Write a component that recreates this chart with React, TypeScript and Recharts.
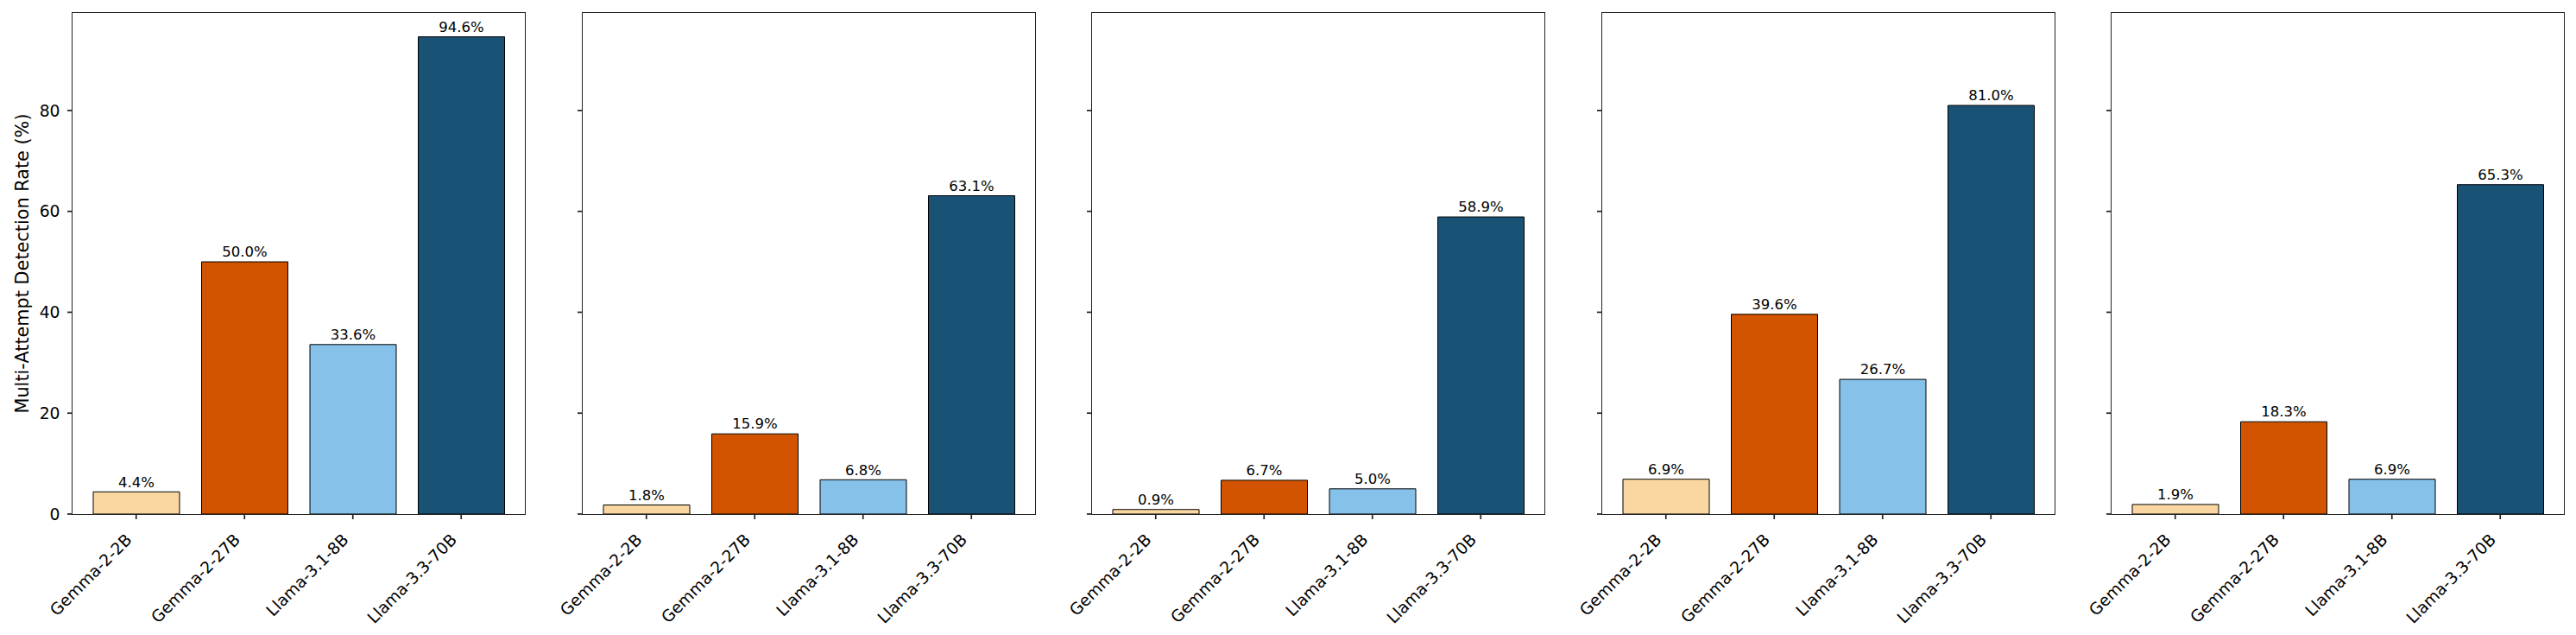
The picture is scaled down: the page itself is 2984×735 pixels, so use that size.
import { BarChart, Bar, XAxis, YAxis, Cell, LabelList } from 'recharts';

const categories = ['Gemma-2-2B', 'Gemma-2-27B', 'Llama-3.1-8B', 'Llama-3.3-70B'];
const barColors = ['#FAD7A0', '#D35400', '#85C1E9', '#1A5276'];

const panel1 = [4.4, 50.0, 33.6, 94.6];
const panel2 = [1.8, 15.9, 6.8, 63.1];
const panel3 = [0.9, 6.7, 5.0, 58.9];
const panel4 = [6.9, 39.6, 26.7, 81.0];
const panel5 = [1.9, 18.3, 6.9, 65.3];
const panels = [panel1, panel2, panel3, panel4, panel5];

const yTicks = [0, 20, 40, 60, 80];
const yMax = 99.33;
const yLabel = 'Multi-Attempt Detection Rate (%)';

const FONT = '"DejaVu Sans", sans-serif';
const AXIS = '#222';
const SPINE = 1.7;
const PLOT_W = 524;
const PLOT_TOP = 15;
const PLOT_H = 580;
const PLOT_LEFTS = [84, 675, 1265, 1856, 2446];
const YW = 84;

function XTick({ x, y, payload }: any) {
  return (
    <text
      transform={`translate(${x - 4},${y + 23}) rotate(-45)`}
      textAnchor="end"
      fontSize={18.75}
      fontFamily={FONT}
      fill="#000"
    >
      {payload.value}
    </text>
  );
}

function YTick({ x, y, payload }: any) {
  return (
    <text x={x} y={y} dy="0.36em" textAnchor="end" fontSize={18.75} fontFamily={FONT} fill="#000">
      {payload.value}
    </text>
  );
}

const noTick = () => <g />;

function ValueLabel({ x, y, width, value }: any) {
  return (
    <text
      x={x + width / 2}
      y={y - 5.7}
      textAnchor="middle"
      fontSize={16.5}
      fontFamily={FONT}
      fill="#000"
    >
      {`${Number(value).toFixed(1)}%`}
    </text>
  );
}

function YLabel({ viewBox }: any) {
  const cx = viewBox.x + 33;
  const cy = viewBox.y + viewBox.height / 2;
  return (
    <text
      transform={`translate(${cx},${cy}) rotate(-90)`}
      textAnchor="middle"
      fontSize={20.8}
      fontFamily={FONT}
      fill="#000"
    >
      {yLabel}
    </text>
  );
}

function Panel({ values, index }: { values: number[]; index: number }) {
  const data = categories.map((name, i) => ({ name, rate: values[i] }));
  const first = index === 0;
  const left = PLOT_LEFTS[index];
  return (
    <>
      <div style={{ position: 'absolute', left: left - YW, top: 0 }}>
        <BarChart
          width={YW + PLOT_W + 4}
          height={735}
          data={data}
          margin={{ top: PLOT_TOP, right: 4, bottom: 10, left: 0 }}
        >
          <XAxis
            dataKey="name"
            height={130}
            padding={{ left: 11, right: 11 }}
            tick={XTick}
            tickSize={6}
            interval={0}
            axisLine={false}
            tickLine={{ stroke: AXIS, strokeWidth: SPINE }}
          />
          <YAxis
            width={YW}
            domain={[0, yMax]}
            ticks={yTicks}
            tick={first ? YTick : noTick}
            tickSize={6}
            tickMargin={8.5}
            axisLine={false}
            tickLine={{ stroke: AXIS, strokeWidth: SPINE }}
            label={first ? YLabel : undefined}
          />
          <Bar dataKey="rate" barSize={100} stroke="#000" strokeWidth={1} isAnimationActive={false}>
            {data.map((d, i) => (
              <Cell key={d.name} fill={barColors[i]} />
            ))}
            <LabelList dataKey="rate" content={ValueLabel} />
          </Bar>
        </BarChart>
      </div>
      {/* axes frame (spines) */}
      <div
        style={{
          position: 'absolute',
          left: left - SPINE / 2,
          top: PLOT_TOP - SPINE / 2,
          width: PLOT_W + SPINE,
          height: PLOT_H + SPINE,
          border: `${SPINE}px solid ${AXIS}`,
          boxSizing: 'border-box',
          pointerEvents: 'none',
        }}
      />
    </>
  );
}

export default function App() {
  return (
    <div style={{ position: 'absolute', left: 0, top: 0, width: 2984, height: 735, background: '#fff' }}>
      {panels.map((values, i) => (
        <Panel key={i} values={values} index={i} />
      ))}
    </div>
  );
}
